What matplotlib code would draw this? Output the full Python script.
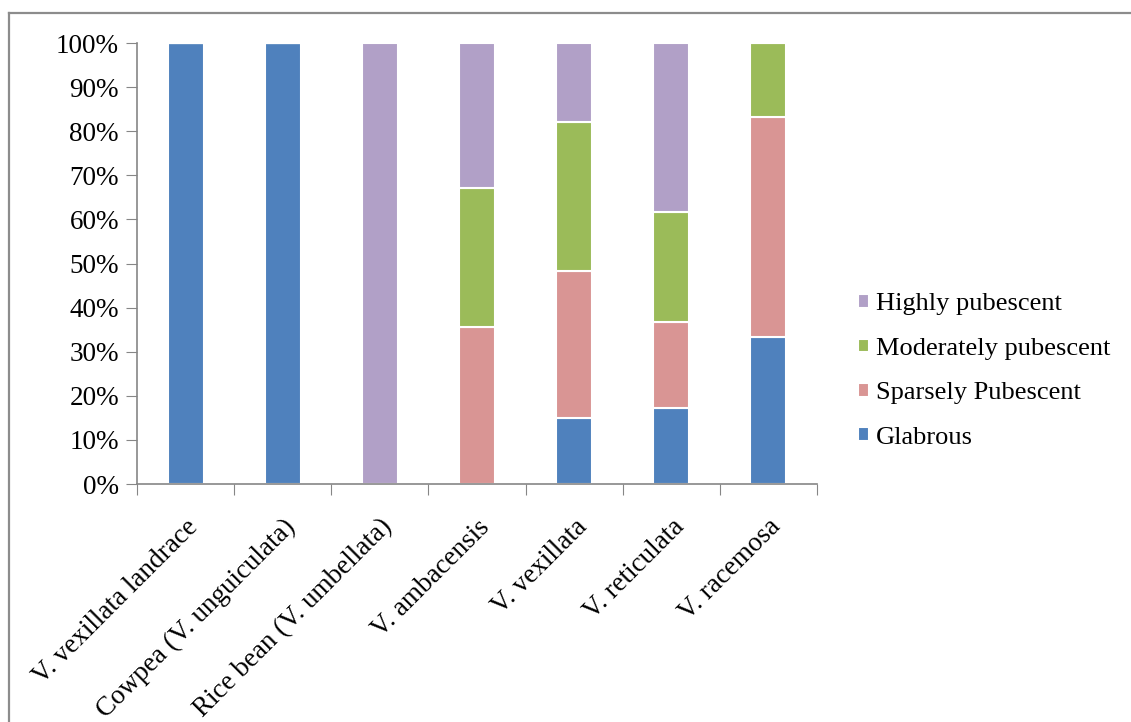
import numpy as np
import matplotlib
matplotlib.use('Agg')
import matplotlib.pyplot as plt
from matplotlib.lines import Line2D
from matplotlib.ticker import FuncFormatter, MultipleLocator

plt.rcParams['font.family'] = ['Liberation Serif', 'DejaVu Serif']

species = ['V. vexillata landrace', 'Cowpea (V. unguiculata)', 'Rice bean (V. umbellata)',
           'V. ambacensis', 'V. vexillata', 'V. reticulata', 'V. racemosa']

# share of accessions in each pubescence class (%)
glabrous = [100, 100, 0, 0, 15.0, 17.2, 33.3]
sparsely = [0, 0, 0, 35.7, 33.3, 19.5, 50.0]
moderately = [0, 0, 0, 31.4, 33.8, 25.0, 16.7]
highly = [0, 0, 100, 32.9, 17.9, 38.3, 0]

series = [('Glabrous', glabrous, '#4F81BD'),
          ('Sparsely Pubescent', sparsely, '#D99594'),
          ('Moderately pubescent', moderately, '#9BBB59'),
          ('Highly pubescent', highly, '#B1A0C7')]

fs = 19.5

fig = plt.figure(figsize=(11.31, 7.22), dpi=100)
ax = fig.add_axes([0.1211, 0.3296, 0.6013, 0.6108])

x = np.arange(len(species))
bottom = np.zeros(len(species))
handles = []
for name, vals, color in series:
    vals = np.array(vals) / 100.0
    b = ax.bar(x, vals, width=0.37, bottom=bottom, color=color,
               edgecolor='white', linewidth=1.5, label=name)
    handles.append(b)
    bottom += vals

ax.set_xlim(-0.5, len(species) - 0.5)
ax.set_ylim(0, 1)
ax.yaxis.set_major_locator(MultipleLocator(0.1))
ax.yaxis.set_major_formatter(FuncFormatter(lambda v, p: f'{v * 100:.0f}%'))

ax.set_xticks(np.arange(-0.5, len(species)), minor=False)
ax.set_xticklabels([])
ax.set_xticks(x, minor=True)
ax.set_xticklabels(species, minor=True, rotation=45, ha='right', va='top',
                   rotation_mode='anchor', fontsize=fs)
ax.tick_params(axis='x', which='minor', length=0, pad=22)
ax.tick_params(axis='x', which='major', length=8, color='#868686', direction='out')
ax.tick_params(axis='y', length=8, color='#868686', labelsize=fs, pad=5)

for side in ['top', 'right']:
    ax.spines[side].set_visible(False)
for side in ['left', 'bottom']:
    ax.spines[side].set_color('#868686')
    ax.spines[side].set_linewidth(1.2)

leg = fig.legend(handles[::-1], [s[0] for s in series[::-1]],
                 loc='center left', bbox_to_anchor=(0.7375, 0.4860),
                 frameon=False, fontsize=19, handlelength=0.42, handleheight=0.42,
                 handletextpad=0.25, labelspacing=0.85)

# chart frame: top and left edges only
frame = '#8C8C8C'
fig.add_artist(Line2D([8.5 / 1131, 1.0], [1 - 12.5 / 722] * 2,
                      transform=fig.transFigure, color=frame, linewidth=1.6))
fig.add_artist(Line2D([8.5 / 1131] * 2, [0.0, 1 - 12.5 / 722],
                      transform=fig.transFigure, color=frame, linewidth=1.6))

fig.savefig('out.png', dpi=100)
